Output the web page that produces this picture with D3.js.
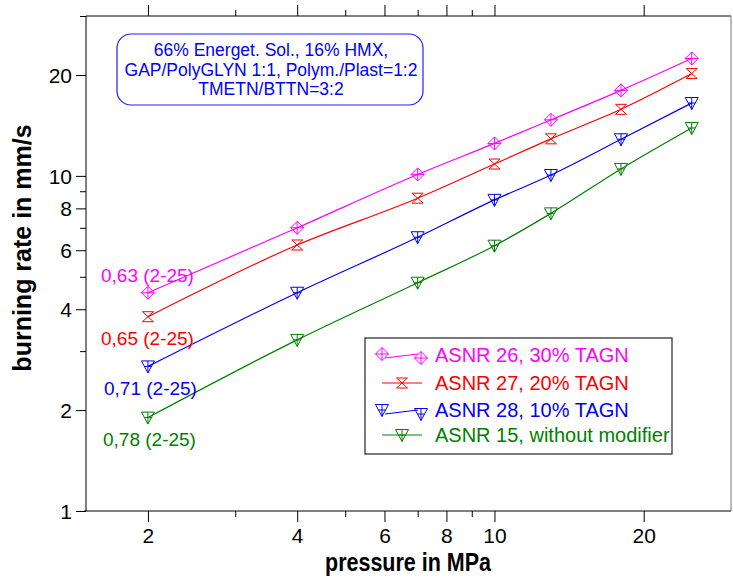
<!DOCTYPE html>
<html>
<head>
<meta charset="utf-8">
<script src="https://cdn.jsdelivr.net/npm/d3@7"></script>
<style>
  html, body { margin: 0; padding: 0; background: #fff; }
  svg { display: block; font-family: "Liberation Sans", Arial, sans-serif; }
</style>
</head>
<body>
<svg id="chart" width="733" height="578"></svg>
<script>
// Pressure steps (MPa) at which burning rates were measured
const pressures = [2, 4, 7, 10, 13, 18, 25];

// Burning rates (mm/s) for each formulation
const asnr26 = [4.48, 7.0, 10.1, 12.5, 14.7, 18.0, 22.4];
const asnr27 = [3.80, 6.22, 8.58, 10.85, 12.9, 15.8, 20.2];
const asnr28 = [2.70, 4.48, 6.56, 8.48, 10.06, 12.86, 16.5];
const asnr15 = [1.90, 3.24, 4.80, 6.19, 7.73, 10.49, 13.9];

const seriesNames = ["ASNR 26, 30% TAGN", "ASNR 27, 20% TAGN", "ASNR 28, 10% TAGN", "ASNR 15, without modifier"];
const slopeLabels = ["0,63 (2-25)", "0,65 (2-25)", "0,71 (2-25)", "0,78 (2-25)"];
const noteLines = ["66% Energet. Sol., 16% HMX,", "GAP/PolyGLYN 1:1, Polym./Plast=1:2", "TMETN/BTTN=3:2"];

// Axis ticks
const xMajor = [2, 4, 6, 8, 10, 20];
const xMinor = [3, 5, 7, 9];
const yMajor = [1, 2, 4, 6, 8, 10, 20];
const yMinor = [3, 5, 7, 9, 30];

const svg = d3.select("#chart");
const L = 86, R = 731, T = 16, B = 511;

const x = d3.scaleLog().domain([1.5, 30]).range([L, R]);
const y = d3.scaleLog().domain([1, 30]).range([B, T]);

const colors = ["#ff00ff", "#ff0000", "#0000ff", "#008000"];
const shapes = ["diamond", "hourglass", "tri", "tri"];
const allSeries = [asnr26, asnr27, asnr28, asnr15];

// Marker path definitions centred on the data point
function markerPath(kind) {
  if (kind === "diamond") {
    return "M0,-6.5L6.5,0L0,6.5L-6.5,0Z M-6.5,0H6.5 M0,-6.5V6.5";
  }
  if (kind === "hourglass") {
    return "M-5.5,-5H5.5L-5.5,5H5.5Z";
  }
  // downward triangle with a cross inside
  return "M-6.5,-5.5H6.5L0,6.5Z M-3.5,0H3.5 M0,-5.5V6.5";
}

// ----- axes -----
const fmt = d => String(d);

const gx = svg.append("g").attr("transform", `translate(0,${B})`)
  .call(d3.axisBottom(x).tickValues(xMajor).tickFormat(fmt).tickSize(11).tickPadding(6));
const gxm = svg.append("g").attr("transform", `translate(0,${B})`)
  .call(d3.axisBottom(x).tickValues(xMinor).tickFormat("").tickSize(6));
const gxt = svg.append("g").attr("transform", `translate(0,${T})`)
  .call(d3.axisTop(x).tickValues(xMajor).tickFormat("").tickSize(11));
const gxtm = svg.append("g").attr("transform", `translate(0,${T})`)
  .call(d3.axisTop(x).tickValues(xMinor).tickFormat("").tickSize(6));

const gy = svg.append("g").attr("transform", `translate(${L},0)`)
  .call(d3.axisLeft(y).tickValues(yMajor).tickFormat(fmt).tickSize(10).tickPadding(4));
const gym = svg.append("g").attr("transform", `translate(${L},0)`)
  .call(d3.axisLeft(y).tickValues(yMinor).tickFormat("").tickSize(6));

[gx, gxm, gxt, gxtm, gy, gym].forEach(g => {
  g.select(".domain").remove();
  g.selectAll("line").attr("stroke", "#000").attr("stroke-width", 1);
  g.selectAll("text").attr("fill", "#000").style("font-size", "21px")
    .style("font-family", "'Liberation Sans', Arial, sans-serif");
});
gy.selectAll("text").attr("dy", "0.36em");

// frame
svg.append("line").attr("x1", L).attr("x2", L).attr("y1", T).attr("y2", B).attr("stroke", "#000");
svg.append("line").attr("x1", L - 2).attr("x2", R).attr("y1", B).attr("y2", B).attr("stroke", "#000");
svg.append("line").attr("x1", L).attr("x2", R).attr("y1", T).attr("y2", T).attr("stroke", "#000");
svg.append("line").attr("x1", R).attr("x2", R).attr("y1", T).attr("y2", B).attr("stroke", "#777");

// axis titles (bold, slightly condensed)
svg.append("text")
  .attr("transform", "translate(408,571) scale(0.86,1)")
  .attr("text-anchor", "middle")
  .style("font-weight", "bold").style("font-size", "25px")
  .text("pressure in MPa");

svg.append("text")
  .attr("transform", "translate(31,248) rotate(-90)")
  .attr("text-anchor", "middle")
  .style("font-weight", "bold").style("font-size", "25px")
  .text("burning rate in mm/s");

// ----- series -----
const line = d3.line()
  .x(d => x(d[0]))
  .y(d => y(d[1]))
  .curve(d3.curveMonotoneX);

allSeries.forEach((vals, i) => {
  const pts = pressures.map((p, j) => [p, vals[j]]);
  svg.append("path")
    .attr("d", line(pts))
    .attr("fill", "none")
    .attr("stroke", colors[i])
    .attr("stroke-width", 1.2);
  svg.append("g").selectAll("path")
    .data(pts).join("path")
    .attr("transform", d => `translate(${x(d[0])},${y(d[1])})`)
    .attr("d", markerPath(shapes[i]))
    .attr("fill", "none")
    .attr("stroke", colors[i])
    .attr("stroke-width", 1);
});

// slope annotations at the low-pressure end
const slopePos = [[101, 282], [101, 345], [104, 395], [103, 446]];
slopeLabels.forEach((t, i) => {
  svg.append("text")
    .attr("x", slopePos[i][0]).attr("y", slopePos[i][1])
    .attr("fill", colors[i])
    .style("font-size", "19px")
    .text(t);
});

// composition note
svg.append("rect")
  .attr("x", 117).attr("y", 34).attr("width", 306).attr("height", 71)
  .attr("rx", 14).attr("ry", 14)
  .attr("fill", "none").attr("stroke", "#2020ff").attr("stroke-width", 1.2);
const noteY = [56, 75.5, 95];
noteLines.forEach((t, i) => {
  svg.append("text")
    .attr("x", 271).attr("y", noteY[i])
    .attr("text-anchor", "middle")
    .attr("fill", "#0000ff")
    .style("font-size", "17.5px")
    .text(t);
});

// ----- legend -----
svg.append("rect")
  .attr("x", 365).attr("y", 338).attr("width", 307).attr("height", 116)
  .attr("fill", "#fff").attr("stroke", "#333").attr("stroke-width", 1.3);

const legBase = [362, 390, 417, 442];
const legMid = [355, 383, 411, 435];
seriesNames.forEach((name, i) => {
  const g = svg.append("g");
  const c = colors[i];
  if (i === 0 || i === 2) {
    // two markers joined by a short line
    g.append("line").attr("x1", 385).attr("y1", legMid[i] + 3).attr("x2", 418).attr("y2", legMid[i] - 1)
      .attr("stroke", c).attr("stroke-width", 1);
    g.append("path").attr("transform", `translate(382,${legMid[i] - 1})`).attr("d", markerPath(shapes[i]))
      .attr("fill", "none").attr("stroke", c);
    g.append("path").attr("transform", `translate(421,${legMid[i] + 3})`).attr("d", markerPath(shapes[i]))
      .attr("fill", "none").attr("stroke", c);
  } else {
    g.append("line").attr("x1", 382).attr("y1", legMid[i]).attr("x2", 422).attr("y2", legMid[i])
      .attr("stroke", c).attr("stroke-width", 1);
    g.append("path").attr("transform", `translate(402,${legMid[i]})`).attr("d", markerPath(shapes[i]))
      .attr("fill", "none").attr("stroke", c);
  }
  g.append("text").attr("x", 435).attr("y", legBase[i])
    .attr("fill", c).style("font-size", "20px").text(name);
});
</script>
</body>
</html>
